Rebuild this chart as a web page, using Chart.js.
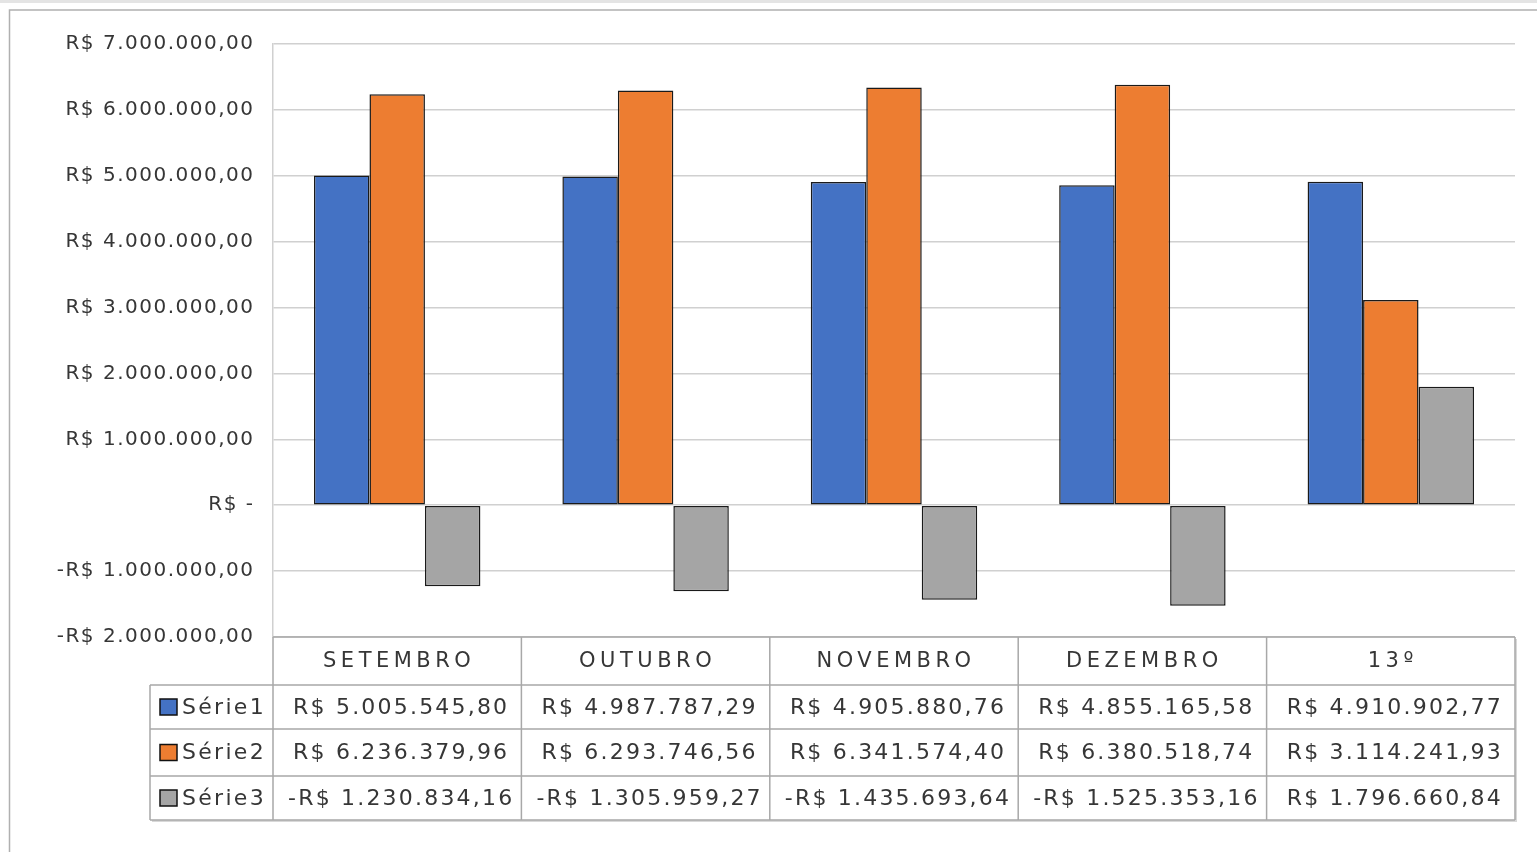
<!DOCTYPE html>
<html>
<head>
<meta charset="utf-8">
<script src="https://cdn.jsdelivr.net/npm/chart.js@4.4.1/dist/chart.umd.min.js"></script>
<style>
html,body{margin:0;padding:0;background:#fff;}
#wrap{position:relative;width:1537px;height:852px;}
</style>
</head>
<body>
<div id="wrap"><canvas id="c" width="1537" height="852"></canvas></div>
<script>
// ---- DATA ----
const categories = ["SETEMBRO", "OUTUBRO", "NOVEMBRO", "DEZEMBRO", "13º"];
const seriesNames = ["Série1", "Série2", "Série3"];
const serie1 = [5005545.80, 4987787.29, 4905880.76, 4855165.58, 4910902.77];
const serie2 = [6236379.96, 6293746.56, 6341574.40, 6380518.74, 3114241.93];
const serie3 = [-1230834.16, -1305959.27, -1435693.64, -1525353.16, 1796660.84];
const yTicks = [7000000, 6000000, 5000000, 4000000, 3000000, 2000000, 1000000, 0, -1000000, -2000000];

// ---- STYLE ----
const colors = ["#4472C4", "#ED7D31", "#A5A5A5"];
const textColor = "#363636";
const gridColor = "#d0d0d0";
const tableLine = "#a8a8a8";
const FONT = "'DejaVu Sans', 'Open Sans', sans-serif";

function fmt(v) {
  if (v === 0) return "R$ -";
  const neg = v < 0;
  const a = Math.abs(v);
  const parts = a.toFixed(2).split(".");
  const int = parts[0].replace(/\B(?=(\d{3})+(?!\d))/g, ".");
  return (neg ? "-" : "") + "R$ " + int + "," + parts[1];
}

const seriesData = [serie1, serie2, serie3];

function spacing(ctx, px) { if ("letterSpacing" in ctx) ctx.letterSpacing = px + "px"; }

const framePlugin = {
  id: "frame",
  beforeDraw(chart) {
    const ctx = chart.ctx;
    ctx.save();
    ctx.fillStyle = "#ffffff";
    ctx.fillRect(0, 0, chart.width, chart.height);
    ctx.fillStyle = "#e4e4e4";
    ctx.fillRect(0, 0, chart.width, 3);
    ctx.strokeStyle = "#b0b0b0";
    ctx.lineWidth = 1.5;
    ctx.strokeRect(9.5, 10, chart.width + 20, chart.height + 20);
    ctx.restore();
  }
};

const yLabelPlugin = {
  id: "ylabels",
  afterDraw(chart) {
    const ctx = chart.ctx;
    const y = chart.scales.y;
    ctx.save();
    ctx.font = "20px " + FONT;
    ctx.fillStyle = textColor;
    ctx.textAlign = "right";
    ctx.textBaseline = "middle";
    spacing(ctx, 1.5);
    yTicks.forEach(v => {
      ctx.fillText(fmt(v), 254.5, y.getPixelForValue(v));
    });
    ctx.restore();
  }
};

const tablePlugin = {
  id: "datatable",
  afterDraw(chart) {
    const ctx = chart.ctx;
    const xs = chart.scales.x;
    const area = chart.chartArea;
    const n = categories.length;
    const cw = (area.right - area.left) / n;
    const top = area.bottom;
    const rowH = [48, 44, 47, 44];
    const legendLeft = 150;
    const rowsTop = [];
    let acc = top;
    rowH.forEach(h => { rowsTop.push(acc); acc += h; });
    const bottom = acc;
    ctx.save();
    // shadow
    ctx.fillStyle = "#d8d8d8";
    ctx.fillRect(legendLeft + 2, bottom, area.right - legendLeft, 2);
    ctx.fillRect(area.right, top + 2, 2, bottom - top);
    ctx.strokeStyle = tableLine;
    ctx.lineWidth = 1.5;
    ctx.beginPath();
    ctx.moveTo(area.left, top); ctx.lineTo(area.right, top);
    ctx.moveTo(area.right, top); ctx.lineTo(area.right, bottom);
    ctx.moveTo(area.left, top); ctx.lineTo(area.left, bottom);
    for (let r = 1; r <= rowH.length; r++) {
      const yy = r < rowH.length ? rowsTop[r] : bottom;
      ctx.moveTo(legendLeft, yy); ctx.lineTo(area.right, yy);
    }
    ctx.moveTo(legendLeft, rowsTop[1]); ctx.lineTo(legendLeft, bottom);
    for (let i = 1; i < n; i++) {
      const cx = xs.getPixelForValue(i) - cw / 2;
      ctx.moveTo(cx, top); ctx.lineTo(cx, bottom);
    }
    ctx.stroke();

    ctx.fillStyle = textColor;
    ctx.textAlign = "center";
    ctx.textBaseline = "middle";
    // header
    ctx.font = "21px " + FONT;
    spacing(ctx, 4.5);
    categories.forEach((c, i) => {
      ctx.fillText(c, xs.getPixelForValue(i) + 2, rowsTop[0] + rowH[0] / 2 + 1);
    });
    // values
    ctx.font = "22px " + FONT;
    spacing(ctx, 2.2);
    seriesData.forEach((arr, s) => {
      const yy = rowsTop[s + 1] + rowH[s + 1] / 2 + 1;
      arr.forEach((v, i) => {
        ctx.fillText(fmt(v), xs.getPixelForValue(i) + 4, yy);
      });
    });
    // legend cells
    ctx.textAlign = "left";
    spacing(ctx, 2.3);
    seriesNames.forEach((name, s) => {
      const yy = rowsTop[s + 1] + rowH[s + 1] / 2;
      ctx.fillStyle = colors[s];
      ctx.fillRect(160, yy - 8, 17, 16);
      ctx.strokeStyle = "#111";
      ctx.lineWidth = 1.5;
      ctx.strokeRect(160, yy - 8, 17, 16);
      ctx.fillStyle = textColor;
      ctx.fillText(name, 182, yy + 1);
    });
    ctx.restore();
  }
};

new Chart(document.getElementById("c"), {
  type: "bar",
  data: {
    labels: categories,
    datasets: seriesNames.map((name, s) => ({
      label: name,
      data: seriesData[s],
      backgroundColor: colors[s],
      borderColor: "#1a1a1a",
      borderWidth: 1.5,
      borderSkipped: false,
      barPercentage: 1.0,
      categoryPercentage: 0.67
    }))
  },
  options: {
    responsive: false,
    animation: false,
    devicePixelRatio: 1,
    layout: { padding: { left: 0, right: 22, top: 44, bottom: 215 } },
    plugins: { legend: { display: false }, tooltip: { enabled: false } },
    scales: {
      x: { display: false },
      y: {
        min: -2000000,
        max: 7000000,
        afterFit(scale) { scale.width = 273; },
        ticks: { stepSize: 1000000, display: false },
        grid: { color: gridColor, lineWidth: 1.5, drawTicks: false },
        border: { display: true, color: gridColor, width: 1.5 }
      }
    }
  },
  plugins: [framePlugin, yLabelPlugin, tablePlugin]
});
</script>
</body>
</html>
